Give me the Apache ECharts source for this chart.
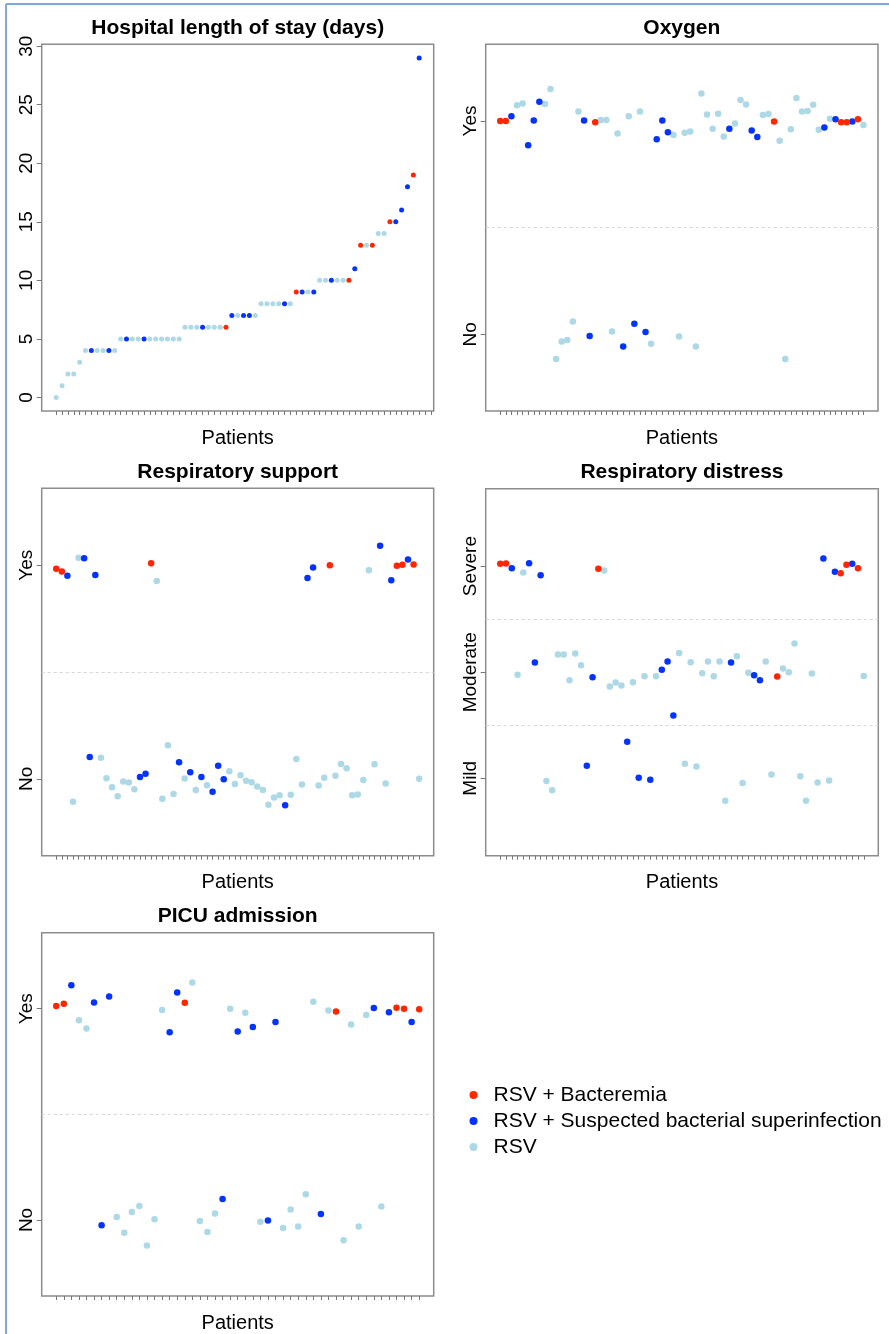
<!DOCTYPE html>
<html>
<head>
<meta charset="utf-8">
<script src="https://cdn.jsdelivr.net/npm/echarts@6/dist/echarts.min.js"></script>
<style>
  html, body { margin: 0; padding: 0; background: #fff; }
  #chart { width: 889px; height: 1334px; }
</style>
</head>
<body>
<div id="chart"></div>
<script>
// groups: B = bacteremia, S = suspected superinfection, R = RSV only
const groupNames = ['RSV + Bacteremia', 'RSV + Suspected bacterial superinfection', 'RSV'];
const groupCodes = ['B', 'S', 'R'];
const groupColors = ['#ff2600', '#0433ff', '#add8e6'];

// Hospital length of stay, patients sorted
const losDays = [0, 1, 2, 2, 3, 4, 4, 4, 4, 4, 4,
  5, 5, 5, 5, 5, 5, 5, 5, 5, 5, 5,
  6, 6, 6, 6, 6, 6, 6, 6,
  7, 7, 7, 7, 7,
  8, 8, 8, 8, 8, 8,
  9, 9, 9, 9,
  10, 10, 10, 10, 10, 10,
  11, 13, 13, 13, 14, 14, 15, 15, 16, 18, 19, 29];
const losGroup = ['R', 'R', 'R', 'R', 'R', 'R', 'S', 'R', 'R', 'S', 'R',
  'R', 'S', 'R', 'R', 'S', 'R', 'R', 'R', 'R', 'R', 'R',
  'R', 'R', 'R', 'S', 'R', 'R', 'R', 'B',
  'S', 'R', 'S', 'S', 'R',
  'R', 'R', 'R', 'R', 'S', 'R',
  'B', 'S', 'R', 'S',
  'R', 'R', 'S', 'R', 'R', 'B',
  'S', 'B', 'R', 'B', 'R', 'R', 'B', 'S', 'S', 'S', 'B', 'S'];
const losTicks = [0, 5, 10, 15, 20, 25, 30];

// Oxygen: 1 = No, 2 = Yes (jittered)
const oxygenValue = [2.00, 2.00, 2.022, 2.074, 2.082, 1.886, 2.002, 2.091, 2.080, 2.150,
  0.884, 0.966, 0.973, 1.060, 2.045, 2.002, 0.992, 1.994, 2.005, 2.005,
  1.013, 1.942, 0.942, 2.022, 1.049, 2.045, 1.011, 0.955, 1.915, 2.002,
  1.947, 1.934, 0.989, 1.945, 1.951, 0.942, 2.129, 2.031, 1.964, 2.034,
  1.928, 1.964, 1.989, 2.099, 2.078, 1.956, 1.925, 2.028, 2.033, 1.998,
  1.908, 0.884, 1.961, 2.108, 2.045, 2.047, 2.077, 1.959, 1.970, 2.011,
  2.008, 1.994, 1.994, 1.998, 2.008, 1.981];
const oxygenGroup = ['B', 'B', 'S', 'R', 'R', 'S', 'S', 'S', 'R', 'R',
  'R', 'R', 'R', 'R', 'R', 'S', 'S', 'B', 'R', 'R',
  'R', 'R', 'S', 'R', 'S', 'R', 'S', 'R', 'S', 'S',
  'S', 'R', 'R', 'R', 'R', 'R', 'R', 'R', 'R', 'R',
  'R', 'S', 'R', 'R', 'R', 'S', 'S', 'R', 'R', 'B',
  'R', 'R', 'R', 'R', 'R', 'R', 'R', 'R', 'S', 'R',
  'S', 'B', 'B', 'S', 'B', 'R'];

// Respiratory support: 1 = No, 2 = Yes
const supportValue = [1.983, 1.970, 1.951, 0.892, 2.035, 2.033, 1.102, 1.954, 1.099, 1.003,
  0.961, 0.918, 0.987, 0.983, 0.951, 1.008, 1.024, 2.009, 1.926, 0.907,
  1.157, 0.929, 1.077, 1.002, 1.031, 0.948, 1.009, 0.970, 0.939, 1.061,
  0.998, 1.035, 0.976, 1.017, 0.991, 0.984, 0.964, 0.947, 0.879, 0.912,
  0.923, 0.876, 0.925, 1.093, 0.973, 1.940, 1.989, 0.969, 1.005, 2.000,
  1.014, 1.069, 1.049, 0.923, 0.926, 0.994, 1.976, 1.068, 2.091, 0.978,
  1.929, 1.997, 2.002, 2.027, 2.003, 1.000];
const supportGroup = ['B', 'B', 'S', 'R', 'R', 'S', 'S', 'S', 'R', 'R',
  'R', 'R', 'R', 'R', 'R', 'S', 'S', 'B', 'R', 'R',
  'R', 'R', 'S', 'R', 'S', 'R', 'S', 'R', 'S', 'S',
  'S', 'R', 'R', 'R', 'R', 'R', 'R', 'R', 'R', 'R',
  'R', 'S', 'R', 'R', 'R', 'S', 'S', 'R', 'R', 'B',
  'R', 'R', 'R', 'R', 'R', 'R', 'R', 'R', 'S', 'R',
  'S', 'B', 'B', 'S', 'B', 'R'];

// Respiratory distress: 1 = Mild, 2 = Moderate, 3 = Severe
const distressValue = [3.022, 3.025, 2.981, 1.975, 2.940, 3.028, 2.091, 2.915, 0.975, 0.887,
  2.166, 2.166, 1.925, 2.176, 2.066, 1.119, 1.953, 2.975, 2.959, 1.865,
  1.903, 1.874, 1.345, 1.906, 1.006, 1.962, 0.987, 1.962, 2.022, 2.100,
  1.592, 2.182, 1.138, 2.094, 1.110, 1.991, 2.100, 1.962, 2.100, 0.787,
  2.091, 2.151, 0.956, 1.994, 1.972, 1.925, 2.100, 1.035, 1.959, 2.035,
  2.000, 2.270, 1.019, 0.787, 1.987, 0.959, 3.072, 0.978, 2.947, 2.934,
  3.013, 3.022, 2.981, 1.965];
const distressGroup = ['B', 'B', 'S', 'R', 'R', 'S', 'S', 'S', 'R', 'R',
  'R', 'R', 'R', 'R', 'R', 'S', 'S', 'B', 'R', 'R',
  'R', 'R', 'S', 'R', 'S', 'R', 'S', 'R', 'S', 'S',
  'S', 'R', 'R', 'R', 'R', 'R', 'R', 'R', 'R', 'R',
  'S', 'R', 'R', 'R', 'S', 'S', 'R', 'R', 'B', 'R',
  'R', 'R', 'R', 'R', 'R', 'R', 'S', 'R', 'S', 'B',
  'B', 'S', 'B', 'R'];

// PICU admission: 1 = No, 2 = Yes
const picuValue = [2.013, 2.024, 2.111, 1.945, 1.907, 2.030, 0.975, 2.058, 1.014, 0.940,
  1.038, 1.066, 0.879, 1.003, 1.994, 1.889, 2.077, 2.028, 2.124, 0.995,
  0.943, 1.031, 1.099, 2.000, 1.892, 1.981, 1.914, 0.992, 0.997, 1.937,
  0.962, 1.050, 0.969, 1.122, 2.033, 1.028, 1.992, 1.987, 0.904, 1.925,
  0.969, 1.970, 2.003, 1.064, 1.983, 2.005, 2.000, 1.937, 1.998];
const picuGroup = ['B', 'B', 'S', 'R', 'R', 'S', 'S', 'S', 'R', 'R',
  'R', 'R', 'R', 'R', 'R', 'S', 'S', 'B', 'R', 'R',
  'R', 'R', 'S', 'R', 'S', 'R', 'S', 'R', 'S', 'S',
  'R', 'R', 'R', 'R', 'R', 'S', 'R', 'B', 'R', 'R',
  'R', 'R', 'S', 'R', 'S', 'B', 'B', 'S', 'B'];

const ynLabels = ['No', 'Yes'];
const distressLabels = ['Mild', 'Moderate', 'Severe'];

const FONT = '"Liberation Sans", Arial, Helvetica, sans-serif';

const panels = [
  { title: 'Hospital length of stay (days)', values: losDays, groups: losGroup,
    left: 41.7, top: 44.3, w: 392, h: 366.7, yMin: -1.16, yMax: 30.16,
    yTicks: losTicks, yLabels: null, dashed: [], size: 5, xTicks: 65 },
  { title: 'Oxygen', values: oxygenValue, groups: oxygenGroup,
    left: 485.7, top: 44.3, w: 392.3, h: 366.7, yMin: 0.64, yMax: 2.36,
    yTicks: [1, 2], yLabels: ynLabels, dashed: [1.5], size: 6.5, xTicks: 66 },
  { title: 'Respiratory support', values: supportValue, groups: supportGroup,
    left: 41.7, top: 488.3, w: 392, h: 367.4, yMin: 0.64, yMax: 2.36,
    yTicks: [1, 2], yLabels: ynLabels, dashed: [1.5], size: 6.5, xTicks: 66 },
  { title: 'Respiratory distress', values: distressValue, groups: distressGroup,
    left: 485.7, top: 488.7, w: 392.6, h: 367, yMin: 0.27, yMax: 3.73,
    yTicks: [1, 2, 3], yLabels: distressLabels, dashed: [1.5, 2.5], size: 6.5, xTicks: 64 },
  { title: 'PICU admission', values: picuValue, groups: picuGroup,
    left: 41.7, top: 932.7, w: 392, h: 366.6, yMin: 0.64, yMax: 2.36,
    yTicks: [1, 2], yLabels: ynLabels, dashed: [1.5], size: 6.5, xTicks: 49 }
];

const grid = [], xAxis = [], yAxis = [], series = [], graphic = [];

panels.forEach((p, pi) => {
  const n = p.values.length;
  const pad = 0.04 * (n - 1);
  const xTickVals = [];
  for (let i = 1; i <= p.xTicks; i++) xTickVals.push(i);

  grid.push({ left: p.left, top: p.top, width: p.w, height: p.h,
    show: true, borderColor: '#8c8c8c', borderWidth: 1.5, containLabel: false });

  xAxis.push({
    gridIndex: pi, type: 'value', min: 1 - pad, max: n + pad,
    axisLine: { show: false, onZero: false },
    axisTick: { show: true, customValues: xTickVals, length: 4,
      lineStyle: { color: '#777', width: 1 } },
    axisLabel: { show: false },
    splitLine: { show: false },
    name: 'Patients', nameLocation: 'middle', nameGap: 17,
    nameTextStyle: { fontSize: 20, color: '#000', fontFamily: FONT }
  });

  yAxis.push({
    gridIndex: pi, type: 'value', min: p.yMin, max: p.yMax,
    axisLine: { show: false, onZero: false },
    axisTick: { show: true, customValues: p.yTicks, length: 5,
      lineStyle: { color: '#777', width: 1 } },
    axisLabel: {
      customValues: p.yTicks, rotate: 90, margin: 5,
      fontSize: 19, color: '#000', fontFamily: FONT,
      formatter: v => p.yLabels ? p.yLabels[Math.round(v) - 1] : String(v)
    },
    splitLine: { show: false }
  });

  // light blue first, then blue, then red on top
  [2, 1, 0].forEach(g => {
    const data = [];
    p.values.forEach((v, i) => {
      if (p.groups[i] === groupCodes[g]) data.push([i + 1, v]);
    });
    const s = {
      name: groupNames[g], type: 'scatter',
      xAxisIndex: pi, yAxisIndex: pi,
      symbol: 'circle', symbolSize: p.size,
      itemStyle: { color: groupColors[g], opacity: 1 },
      data: data, silent: true
    };
    if (g === 2 && p.dashed.length) {
      s.markLine = {
        silent: true, symbol: ['none', 'none'], label: { show: false },
        lineStyle: { type: [3, 3], color: '#d6d6d6', width: 1 },
        data: p.dashed.map(d => ({ yAxis: d }))
      };
    }
    series.push(s);
  });

  graphic.push({
    type: 'text', x: p.left + p.w / 2, y: p.top - 16,
    style: { text: p.title, align: 'center', verticalAlign: 'middle',
      font: 'bold 21px ' + FONT, fill: '#000' }
  });
});

// page frame
graphic.push({ type: 'line', shape: { x1: 6, y1: 4, x2: 889, y2: 4 },
  style: { stroke: '#7fa9dc', lineWidth: 2 } });
graphic.push({ type: 'line', shape: { x1: 6, y1: 4, x2: 6, y2: 1334 },
  style: { stroke: '#7fa9dc', lineWidth: 2 } });

const chart = echarts.init(document.getElementById('chart'), null, { renderer: 'canvas' });
chart.setOption({
  animation: false,
  backgroundColor: '#fff',
  grid: grid,
  xAxis: xAxis,
  yAxis: yAxis,
  legend: {
    orient: 'vertical', left: 464.5, top: 1079.5,
    icon: 'circle', itemWidth: 30, itemHeight: 8, itemGap: 5,
    selectedMode: false,
    data: groupNames,
    textStyle: { fontSize: 21, color: '#000', fontFamily: FONT }
  },
  graphic: graphic,
  series: series
});
</script>
</body>
</html>
